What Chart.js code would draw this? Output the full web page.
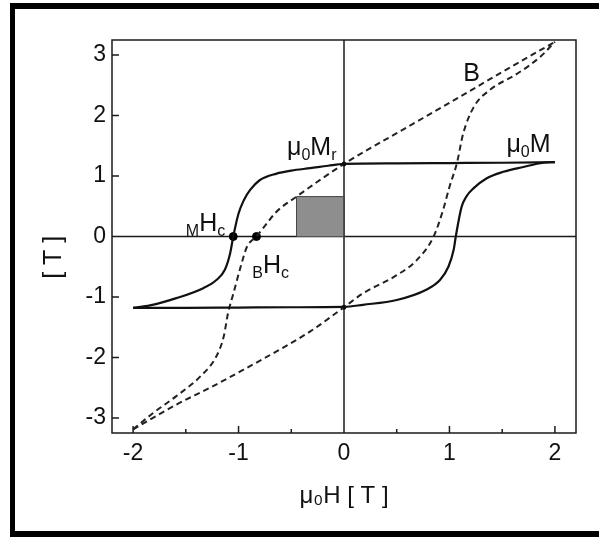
<!DOCTYPE html>
<html>
<head>
<meta charset="utf-8">
<script src="https://cdn.jsdelivr.net/npm/chart.js@4.4.0/dist/chart.umd.min.js"></script>
<style>
  html, body { margin: 0; padding: 0; background: #fff; }
  #frame { position: absolute; left: 10px; top: 3px; width: 589px; height: 534px; box-sizing: border-box;
           border-left: 5px solid #000; border-top: 6px solid #000; border-bottom: 6px solid #000; }
  #wrap { position: absolute; left: 0; top: 0; width: 599px; height: 537px; }
</style>
</head>
<body>
<div id="frame"></div>
<div id="wrap"><canvas id="loopChart" width="599" height="537"></canvas></div>
<script>
// mu0*M, branch coming down from +saturation (listed left to right)
var mDownH = [-2.0, -1.84, -1.59, -1.33, -1.21, -1.13, -1.08, -1.05, -1.0, -0.95, -0.89, -0.8, -0.64, -0.5, -0.32, -0.15, 0, 0.5, 1.0, 1.5, 2.0];
var mDownM = [-1.18, -1.14, -1.02, -0.85, -0.72, -0.55, -0.28, 0.0, 0.38, 0.60, 0.77, 0.93, 1.04, 1.09, 1.13, 1.17, 1.2, 1.21, 1.215, 1.22, 1.23];
// mu0*M, branch going up from -saturation
var mUpH = [-2.0, -1.5, -1.0, -0.5, 0, 0.18, 0.5, 0.78, 0.91, 0.99, 1.04, 1.06, 1.115, 1.16, 1.23, 1.35, 1.51, 1.70, 1.89, 2.0];
var mUpM = [-1.18, -1.18, -1.175, -1.17, -1.165, -1.13, -1.05, -0.88, -0.72, -0.50, -0.22, 0.0, 0.49, 0.66, 0.80, 0.96, 1.07, 1.15, 1.22, 1.23];
// B, both branches
var bDownH = [-2.0, -1.81, -1.59, -1.36, -1.21, -1.14, -1.10, -1.05, -0.98, -0.92, -0.83, -0.73, -0.64, -0.45, 0, 0.5, 1.0, 1.5, 2.0];
var bDownB = [-3.19, -2.92, -2.64, -2.31, -1.98, -1.65, -1.27, -0.95, -0.5, -0.17, 0.0, 0.22, 0.41, 0.66, 1.2, 1.71, 2.21, 2.72, 3.22];
var bUpH = [-2.0, -1.59, -1.27, -0.95, -0.64, -0.32, 0, 0.18, 0.5, 0.69, 0.85, 0.94, 1.0, 1.07, 1.13, 1.23, 1.38, 1.64, 1.86, 2.0];
var bUpB = [-3.19, -2.78, -2.50, -2.20, -1.90, -1.57, -1.17, -0.94, -0.64, -0.39, 0.0, 0.44, 0.82, 1.21, 1.70, 2.14, 2.42, 2.69, 2.97, 3.22];
// (BH)max box
var boxH = [-0.45, -0.45, 0, 0];
var boxB = [0, 0.66, 0.66, 0];
// marked points: coercive fields and remanence
var dotH = [-1.05, -0.83];
var dotV = [0, 0];
var remH = [0, 0];
var remV = [1.2, -1.17];

var xTicks = [-2, -1, 0, 1, 2];
var xMinor = [-1.5, -0.5, 0.5, 1.5];
var yTicks = [-3, -2, -1, 0, 1, 2, 3];

// curve labels: pieces [text, isSubscript], anchored at (H, value)
var noteParts = [
  [['B', 0]],
  [['\u03bc', 0], ['0', 1], ['M', 0]],
  [['\u03bc', 0], ['0', 1], ['M', 0], ['r', 1]],
  [['M', 1], ['H', 0], ['c', 1]],
  [['B', 1], ['H', 0], ['c', 1]]
];
var noteH = [1.13, 1.54, -0.54, -1.50, -0.87];
var noteV = [2.58, 1.39, 1.345, 0.09, -0.60];

var FONT = '"Liberation Sans", Arial, sans-serif';

function pts(xs, ys) {
  return xs.map(function (v, i) { return { x: v, y: ys[i] }; });
}

var loopDecor = {
  id: 'loopDecor',
  beforeDatasetsDraw: function (chart) {
    var ctx = chart.ctx, a = chart.chartArea;
    var xs = chart.scales.x, ys = chart.scales.y;
    ctx.save();
    ctx.strokeStyle = '#1a1a1a';
    ctx.lineWidth = 1.5;
    ctx.strokeRect(a.left, a.top, a.right - a.left, a.bottom - a.top);
    var x0 = xs.getPixelForValue(0), y0 = ys.getPixelForValue(0);
    ctx.beginPath();
    ctx.moveTo(x0, a.top); ctx.lineTo(x0, a.bottom);
    ctx.moveTo(a.left, y0); ctx.lineTo(a.right, y0);
    xTicks.forEach(function (v) {
      var p = xs.getPixelForValue(v);
      ctx.moveTo(p, a.bottom); ctx.lineTo(p, a.bottom - 7);
    });
    xMinor.forEach(function (v) {
      var p = xs.getPixelForValue(v);
      ctx.moveTo(p, a.bottom); ctx.lineTo(p, a.bottom - 4);
    });
    yTicks.forEach(function (v) {
      var p = ys.getPixelForValue(v);
      ctx.moveTo(a.left, p); ctx.lineTo(a.left + 7, p);
    });
    ctx.stroke();
    ctx.restore();
  },
  afterDatasetsDraw: function (chart) {
    var ctx = chart.ctx;
    var xs = chart.scales.x, ys = chart.scales.y;
    ctx.save();
    ctx.fillStyle = '#111';
    ctx.textAlign = 'left';
    ctx.textBaseline = 'alphabetic';
    noteParts.forEach(function (parts, i) {
      var x = xs.getPixelForValue(noteH[i]);
      var y = ys.getPixelForValue(noteV[i]);
      parts.forEach(function (p) {
        ctx.font = (p[1] ? '16px ' : '25px ') + FONT;
        ctx.fillText(p[0], x, y + (p[1] ? 5 : 0));
        x += ctx.measureText(p[0]).width;
      });
    });
    ctx.restore();
  }
};

var fixTicks = function (list) {
  return function (scale) {
    scale.ticks = list.map(function (v) { return { value: v }; });
  };
};

new Chart(document.getElementById('loopChart').getContext('2d'), {
  type: 'scatter',
  data: {
    datasets: [
      { data: pts(boxH, boxB), showLine: true, fill: 'origin', backgroundColor: '#8e8e8e',
        borderColor: '#444', borderWidth: 1, pointRadius: 0 },
      { data: pts(mDownH, mDownM), showLine: true, borderColor: '#111', borderWidth: 2.2,
        cubicInterpolationMode: 'monotone', pointRadius: 0 },
      { data: pts(mUpH, mUpM), showLine: true, borderColor: '#111', borderWidth: 2.2,
        cubicInterpolationMode: 'monotone', pointRadius: 0 },
      { data: pts(bDownH, bDownB), showLine: true, borderColor: '#222', borderWidth: 2,
        borderDash: [6, 4], cubicInterpolationMode: 'monotone', pointRadius: 0 },
      { data: pts(bUpH, bUpB), showLine: true, borderColor: '#222', borderWidth: 2,
        borderDash: [6, 4], cubicInterpolationMode: 'monotone', pointRadius: 0 },
      { data: pts(dotH, dotV), showLine: false, pointRadius: 4, backgroundColor: '#000', borderColor: '#000' },
      { data: pts(remH, remV), showLine: false, pointRadius: 2, backgroundColor: '#000', borderColor: '#000' }
    ]
  },
  options: {
    responsive: false,
    animation: false,
    events: [],
    layout: { padding: { left: 0, top: 40, right: 23, bottom: 0 } },
    plugins: { legend: { display: false }, tooltip: { enabled: false } },
    scales: {
      x: {
        type: 'linear', min: -2.2, max: 2.2,
        afterBuildTicks: fixTicks(xTicks),
        afterFit: function (scale) { scale.height = 104; },
        grid: { display: false, drawTicks: false },
        border: { display: false },
        ticks: { padding: 7, color: '#111', font: { family: FONT, size: 23 } },
        title: { display: true, text: '\u03bc\u2080H [ T ]', color: '#111',
                 font: { family: FONT, size: 24 }, padding: { top: 0, bottom: 26 } }
      },
      y: {
        type: 'linear', min: -3.25, max: 3.25,
        afterBuildTicks: fixTicks(yTicks),
        afterFit: function (scale) { scale.width = 112; },
        grid: { display: false, drawTicks: false },
        border: { display: false },
        ticks: { padding: 6, color: '#111', font: { family: FONT, size: 23 } },
        title: { display: true, text: '[ T ]      ', color: '#111',
                 font: { family: FONT, size: 25 }, padding: { top: 39, bottom: 0 } }
      }
    }
  },
  plugins: [loopDecor]
});
</script>
</body>
</html>
